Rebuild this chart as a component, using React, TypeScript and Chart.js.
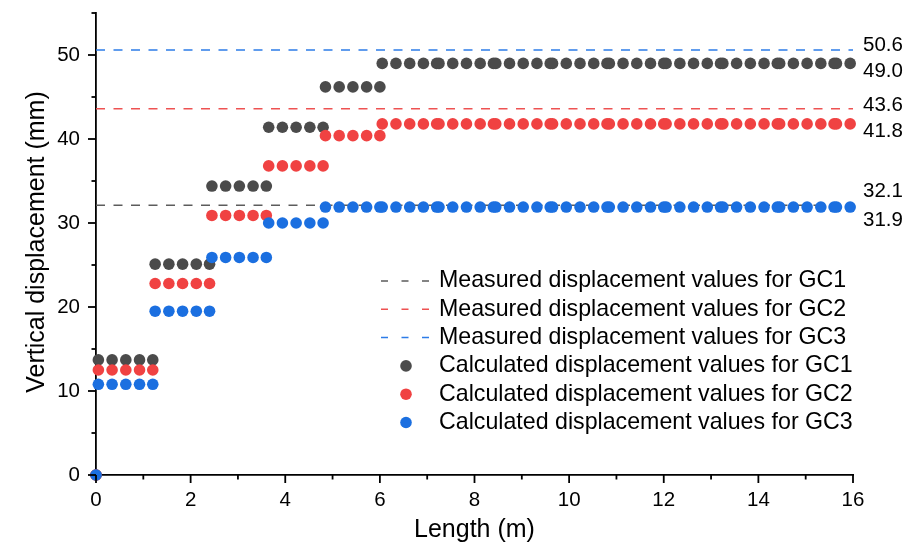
import { useEffect, useRef } from "react";
import { Chart, registerables } from "chart.js";

Chart.register(...registerables);

// ---------- data ----------
const X_RANGE = [0, 16];
const Y_RANGE = [0, 55];
const X_MAJOR_TICKS = [0, 2, 4, 6, 8, 10, 12, 14, 16];
const X_MINOR_TICKS = [1, 3, 5, 7, 9, 11, 13, 15];
const Y_MAJOR_TICKS = [0, 10, 20, 30, 40, 50];
const Y_MINOR_TICKS = [5, 15, 25, 35, 45, 55];

const ORIGIN_POINT = { x: 0, y: 0 };

// x positions (m) of the calculated points, grouped by construction stage
const GROUP_X: number[][] = [
  [0.05, 0.34, 0.63, 0.92, 1.2],
  [1.25, 1.54, 1.83, 2.12, 2.4],
  [2.45, 2.74, 3.03, 3.32, 3.6],
  [3.65, 3.94, 4.23, 4.52, 4.8],
  [4.85, 5.14, 5.43, 5.72, 6.0],
  [6.05, 6.34, 6.63, 6.92, 7.2],
  [7.25, 7.54, 7.83, 8.12, 8.4],
  [8.45, 8.74, 9.03, 9.32, 9.6],
  [9.65, 9.94, 10.23, 10.52, 10.8],
  [10.85, 11.14, 11.43, 11.72, 12.0],
  [12.05, 12.34, 12.63, 12.92, 13.2],
  [13.25, 13.54, 13.83, 14.12, 14.4],
  [14.45, 14.74, 15.03, 15.32, 15.6],
  [15.65, 15.94],
];

// calculated displacement (mm) per group
const CALC_GC1 = [13.7, 25.1, 34.4, 41.4, 46.2, 49.0, 49.0, 49.0, 49.0, 49.0, 49.0, 49.0, 49.0, 49.0];
const CALC_GC2 = [12.5, 22.8, 30.9, 36.8, 40.4, 41.8, 41.8, 41.8, 41.8, 41.8, 41.8, 41.8, 41.8, 41.8];
const CALC_GC3 = [10.8, 19.5, 25.9, 30.0, 31.9, 31.9, 31.9, 31.9, 31.9, 31.9, 31.9, 31.9, 31.9, 31.9];

// measured displacement (mm)
const MEASURED_GC1 = 32.1;
const MEASURED_GC2 = 43.6;
const MEASURED_GC3 = 50.6;

const END_LABEL_VALUES = [50.6, 49.0, 43.6, 41.8, 32.1, 31.9];
const END_LABEL_TEXT = ["50.6", "49.0", "43.6", "41.8", "32.1", "31.9"];

const SERIES_LABELS = [
  "Measured displacement values for GC1",
  "Measured displacement values for GC2",
  "Measured displacement values for GC3",
  "Calculated displacement values for GC1",
  "Calculated displacement values for GC2",
  "Calculated displacement values for GC3",
];

const X_TITLE = "Length (m)";
const Y_TITLE = "Vertical displacement (mm)";

// ---------- styles ----------
const FONT = "'Liberation Sans', Arial, Helvetica, sans-serif";
const C_GRAY = "#4b4b4b";
const C_RED = "#f04242";
const C_BLUE = "#1b6fe0";
const C_GRAY_DASH = "#5c5c5c";
const C_RED_DASH = "#ee5252";
const C_BLUE_DASH = "#2d7ce8";
const END_LABEL_DY = [-5, 8, -3, 7, -14, 13];

function buildPoints(levels: number[]) {
  const pts = [ORIGIN_POINT];
  GROUP_X.forEach((xs, g) => xs.forEach((x) => pts.push({ x, y: levels[g] })));
  return pts;
}

function measuredLine(v: number) {
  return [
    { x: X_RANGE[0], y: v },
    { x: X_RANGE[1], y: v },
  ];
}

const axisTicksPlugin = {
  id: "axisTicks",
  afterDraw(chart: any) {
    const { ctx, chartArea: a, scales } = chart;
    const xs = scales.x;
    const ys = scales.y;
    ctx.save();
    ctx.strokeStyle = "#000";
    ctx.lineWidth = 1.8;
    const xt = (v: number, len: number) => {
      const p = xs.getPixelForValue(v);
      ctx.beginPath();
      ctx.moveTo(p, a.bottom);
      ctx.lineTo(p, a.bottom + len);
      ctx.stroke();
    };
    const yt = (v: number, len: number) => {
      const p = ys.getPixelForValue(v);
      ctx.beginPath();
      ctx.moveTo(a.left, p);
      ctx.lineTo(a.left - len, p);
      ctx.stroke();
    };
    X_MAJOR_TICKS.forEach((v) => xt(v, 8));
    X_MINOR_TICKS.forEach((v) => xt(v, 4.5));
    Y_MAJOR_TICKS.forEach((v) => yt(v, 8));
    Y_MINOR_TICKS.forEach((v) => yt(v, 4.5));

    // axis titles
    ctx.fillStyle = "#000";
    ctx.font = `25px ${FONT}`;
    ctx.textAlign = "center";
    ctx.textBaseline = "alphabetic";
    ctx.fillText(X_TITLE, (a.left + a.right) / 2, a.bottom + 62);
    ctx.save();
    ctx.translate(a.left - 52, (a.top + a.bottom) / 2 - 2);
    ctx.rotate(-Math.PI / 2);
    ctx.fillText(Y_TITLE, 0, 0);
    ctx.restore();

    // end labels
    ctx.font = `20.5px ${FONT}`;
    ctx.textAlign = "left";
    ctx.textBaseline = "middle";
    END_LABEL_VALUES.forEach((v, i) => {
      ctx.fillText(END_LABEL_TEXT[i], a.right + 10, ys.getPixelForValue(v) + END_LABEL_DY[i]);
    });

    // legend
    const rowY0 = a.top + 268;
    const step = 28.3;
    ctx.font = `23.2px ${FONT}`;
    chart.data.datasets.forEach((ds: any, i: number) => {
      const y = rowY0 + i * step;
      if (ds.showLine) {
        ctx.save();
        ctx.strokeStyle = ds.borderColor;
        ctx.lineWidth = ds.borderWidth;
        ctx.setLineDash([7, 13.5]);
        ctx.beginPath();
        ctx.moveTo(a.left + 285, y);
        ctx.lineTo(a.left + 333, y);
        ctx.stroke();
        ctx.restore();
      } else {
        ctx.fillStyle = ds.backgroundColor;
        ctx.beginPath();
        ctx.arc(a.left + 310, y, ds.pointRadius, 0, Math.PI * 2);
        ctx.fill();
      }
      ctx.fillStyle = "#000";
      ctx.fillText(ds.label, a.left + 343, y);
    });
    ctx.restore();
  },
};

export default function App() {
  const ref = useRef<HTMLCanvasElement | null>(null);

  useEffect(() => {
    document.body.style.margin = "0";
    const canvas = ref.current;
    if (!canvas) return;

    const dashed = (label: string, v: number, color: string) => ({
      label,
      data: measuredLine(v),
      showLine: true,
      borderColor: color,
      backgroundColor: color,
      borderWidth: 1.5,
      borderDash: [9, 8.5],
      pointRadius: 0,
      pointHoverRadius: 0,
      order: 10,
    });
    const dots = (label: string, levels: number[], color: string, order: number) => ({
      label,
      data: buildPoints(levels),
      showLine: false,
      backgroundColor: color,
      borderColor: color,
      borderWidth: 0,
      pointRadius: 5.8,
      pointHoverRadius: 5.8,
      clip: false,
      order,
    });

    const noPad = (s: any) => {
      s.paddingTop = 0;
      s.paddingBottom = 0;
      s.paddingLeft = 0;
      s.paddingRight = 0;
    };

    const chart = new Chart(canvas, {
      type: "scatter",
      data: {
        datasets: [
          dashed(SERIES_LABELS[0], MEASURED_GC1, C_GRAY_DASH),
          dashed(SERIES_LABELS[1], MEASURED_GC2, C_RED_DASH),
          dashed(SERIES_LABELS[2], MEASURED_GC3, C_BLUE_DASH),
          dots(SERIES_LABELS[3], CALC_GC1, C_GRAY, 3),
          dots(SERIES_LABELS[4], CALC_GC2, C_RED, 2),
          dots(SERIES_LABELS[5], CALC_GC3, C_BLUE, 1),
        ] as any,
      },
      options: {
        animation: false,
        responsive: false,
        events: [],
        layout: { padding: { top: 13, right: 63, left: 0, bottom: 0 } },
        plugins: {
          legend: { display: false },
          tooltip: { enabled: false },
          title: { display: false },
        },
        scales: {
          x: {
            type: "linear",
            min: X_RANGE[0],
            max: X_RANGE[1],
            afterBuildTicks: (s: any) => {
              s.ticks = X_MAJOR_TICKS.map((v) => ({ value: v }));
            },
            afterFit: (s: any) => {
              s.height = 69;
              noPad(s);
            },
            grid: { display: false },
            border: { display: true, color: "#000", width: 1.8 },
            ticks: {
              padding: 5,
              color: "#000",
              font: { family: FONT, size: 20.5 },
              maxRotation: 0,
              autoSkip: false,
            },
          },
          y: {
            type: "linear",
            min: Y_RANGE[0],
            max: Y_RANGE[1],
            afterBuildTicks: (s: any) => {
              s.ticks = Y_MAJOR_TICKS.map((v) => ({ value: v }));
            },
            afterFit: (s: any) => {
              s.width = 96;
              noPad(s);
            },
            grid: { display: false },
            border: { display: true, color: "#000", width: 1.8 },
            ticks: {
              padding: 8,
              color: "#000",
              font: { family: FONT, size: 20.5 },
              autoSkip: false,
            },
          },
        },
      },
      plugins: [axisTicksPlugin],
    });

    return () => chart.destroy();
  }, []);

  return (
    <div style={{ width: 916, height: 544 }}>
      <canvas ref={ref} width={916} height={544} style={{ display: "block" }} />
    </div>
  );
}
